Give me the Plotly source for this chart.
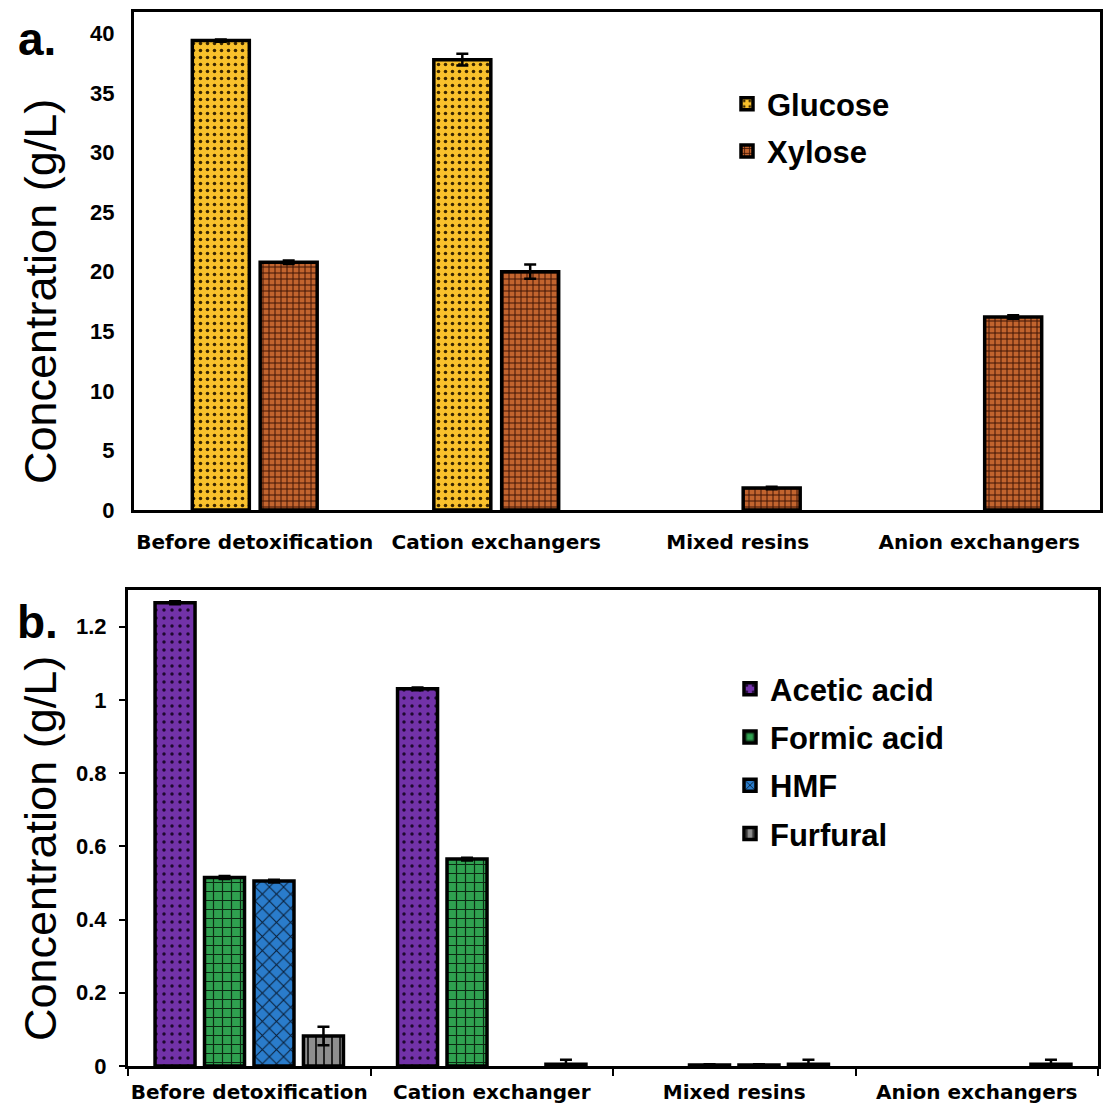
import plotly.graph_objects as go

# ---- Panel a: sugars ----
stages_a = ["Before detoxification", "Cation exchangers", "Mixed resins", "Anion exchangers"]
glucose = [39.4, 37.8, None, None]
glucose_err = [0.1, 0.5, 0, 0]
xylose = [20.8, 20.0, 1.85, 16.2]
xylose_err = [0.15, 0.6, 0.1, 0.15]

# ---- Panel b: inhibitors ----
stages_b = ["Before detoxification", "Cation exchanger", "Mixed resins", "Anion exchangers"]
acetic = [1.265, 1.03, None, None]
acetic_err = [0.004, 0.004, 0, 0]
formic = [0.515, 0.565, 0.003, None]
formic_err = [0.004, 0.004, 0.002, 0]
hmf = [0.505, None, 0.003, None]
hmf_err = [0.004, 0, 0.002, 0]
furfural = [0.082, 0.005, 0.005, 0.005]
furfural_err = [0.025, 0.012, 0.012, 0.012]

FONT = "Arial, Liberation Sans, sans-serif"
CAT_FONT = "DejaVu Sans, Verdana, sans-serif"
W, H = 1103, 1107


def py(px):
    """Paper y-coordinate for a pixel row measured from the top."""
    return 1 - px / H


def bar(name, x, y, err, color, fg, shape, size, solidity, width, offset, xa, ya, legend):
    return go.Bar(
        name=name, x=x, y=y, xaxis=xa, yaxis=ya, legend=legend, legendgroup=name,
        width=width, offset=offset,
        marker=dict(
            color=color,
            line=dict(color="black", width=3.5),
            pattern=dict(shape=shape, fgcolor=fg, bgcolor=color, size=size,
                         solidity=solidity, fillmode="replace"),
        ),
        error_y=dict(type="data", array=err, visible=True, color="black",
                     thickness=2.5, width=6),
    )


fig = go.Figure()

wa = 0.236
fig.add_trace(bar("Glucose", stages_a, glucose, glucose_err, "#F9C12C", "#3a2600",
                  ".", 7, 0.2, wa, -wa - 0.0225, "x", "y", "legend"))
fig.add_trace(bar("Xylose", stages_a, xylose, xylose_err, "#C2642E", "#3a1204",
                  "+", 6, 0.3, wa, 0.0225, "x", "y", "legend"))

wb = 0.165
slot = 0.204
start = -2 * slot + (slot - wb) / 2
fig.add_trace(bar("Acetic acid", stages_b, acetic, acetic_err, "#7232A8", "#1e0830",
                  ".", 8, 0.15, wb, start, "x2", "y2", "legend2"))
fig.add_trace(bar("Formic acid", stages_b, formic, formic_err, "#2FA150", "#0b2a12",
                  "+", 9, 0.25, wb, start + slot, "x2", "y2", "legend2"))
fig.add_trace(bar("HMF", stages_b, hmf, hmf_err, "#2A7CCB", "#0a1f38",
                  "x", 10, 0.2, wb, start + 2 * slot, "x2", "y2", "legend2"))
fig.add_trace(bar("Furfural", stages_b, furfural, furfural_err, "#8E8E8E", "#222222",
                  "|", 8, 0.25, wb, start + 3 * slot, "x2", "y2", "legend2"))

axis_common = dict(showline=True, mirror=True, linewidth=3, linecolor="black",
                   showgrid=False, zeroline=False, automargin=False)
tickfont = dict(family=FONT, size=22, color="black", weight="bold")
catfont = dict(family=CAT_FONT, size=20, color="black", weight="bold")
legfont = dict(family=FONT, size=31, color="black", weight="bold")

fig.update_layout(
    width=W, height=H,
    margin=dict(l=0, r=0, t=0, b=0),
    paper_bgcolor="white", plot_bgcolor="white",
    barmode="overlay",
    font=dict(family=FONT, color="black"),
    xaxis=dict(domain=[134 / W, 1100 / W], anchor="y", type="category",
               tickfont=catfont, ticks="", tickangle=0, ticklabelstandoff=12,
               **axis_common),
    yaxis=dict(domain=[py(510), py(12)], anchor="x", range=[0, 41.8],
               dtick=5, tickfont=tickfont, ticks="", ticklabelstandoff=12,
               **axis_common),
    xaxis2=dict(domain=[128 / W, 1098 / W], anchor="y2", type="category",
                tickfont=catfont, ticks="outside", tickson="boundaries", tickangle=0,
                ticklen=7, tickwidth=2, tickcolor="black", ticklabelstandoff=6,
                **axis_common),
    yaxis2=dict(domain=[py(1066), py(590)], anchor="x2", range=[0, 1.3],
                dtick=0.2, tickfont=tickfont, ticks="outside", ticklen=6,
                tickwidth=2, tickcolor="black", ticklabelstandoff=8, **axis_common),
    legend=dict(x=727 / W, y=py(77), xanchor="left", yanchor="top",
                font=legfont, bgcolor="rgba(0,0,0,0)", tracegroupgap=4, itemwidth=30),
    legend2=dict(x=730 / W, y=py(662), xanchor="left", yanchor="top",
                 font=legfont, bgcolor="rgba(0,0,0,0)", tracegroupgap=5, itemwidth=30),
)

annots = [
    dict(text="a.", x=37 / W, y=py(39), size=46, bold=True, angle=0),
    dict(text="b.", x=37 / W, y=py(622), size=46, bold=True, angle=0),
    dict(text="Concentration (g/L)", x=40 / W, y=py(292), size=45, bold=False, angle=-90),
    dict(text="Concentration (g/L)", x=40 / W, y=py(849), size=45, bold=False, angle=-90),
]
for a in annots:
    fig.add_annotation(
        text=a["text"], x=a["x"], y=a["y"], xref="paper", yref="paper",
        xanchor="center", yanchor="middle", showarrow=False, textangle=a["angle"],
        font=dict(family=FONT, size=a["size"], color="black",
                  weight="bold" if a["bold"] else "normal"),
    )

fig.write_html("out.html")
